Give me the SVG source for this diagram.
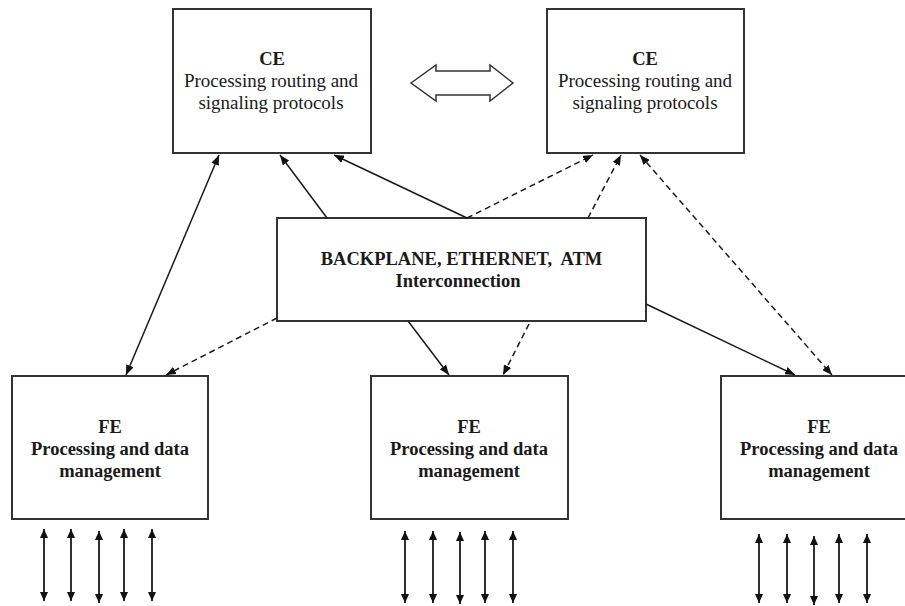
<svg xmlns="http://www.w3.org/2000/svg" width="905" height="606" viewBox="0 0 905 606">
<defs>
<marker id="ah" markerUnits="userSpaceOnUse" markerWidth="10" markerHeight="8" viewBox="0 0 10 8" refX="10" refY="4" orient="auto-start-reverse">
<path d="M0,0 L10,4 L0,8 z" fill="#111"/>
</marker>
<marker id="ah2" markerUnits="userSpaceOnUse" markerWidth="9" markerHeight="8" viewBox="0 0 9 8" refX="9" refY="4" orient="auto-start-reverse">
<path d="M0,0 L9,4 L0,8 z" fill="#111"/>
</marker>
<style>
.box{fill:#fff;stroke:#333;stroke-width:2}
.t{font-family:"Liberation Serif","Times New Roman",serif;fill:#1a1a1a;text-anchor:middle}
.r{font-size:19px}
.b{font-size:18.5px;font-weight:bold}
.c{fill:none;stroke:#1a1a1a;stroke-width:1.5}
.d{stroke-dasharray:6,4}
.io{fill:none;stroke:#1a1a1a;stroke-width:1.8;marker-start:url(#ah2);marker-end:url(#ah2)}
</style>
</defs>
<rect width="905" height="606" fill="#fff"/>
<g id="ce1">
<rect class="box" x="173" y="9" width="198" height="144"/>
<text class="t b" x="272" y="65">CE</text>
<text class="t r" x="271" y="87">Processing routing and</text>
<text class="t r" x="271" y="109">signaling protocols</text>
</g>
<g id="ce2">
<rect class="box" x="547" y="9" width="197" height="144"/>
<text class="t b" x="645" y="65">CE</text>
<text class="t r" x="645" y="87">Processing routing and</text>
<text class="t r" x="645" y="109">signaling protocols</text>
</g>
<g id="ce-link">
<path d="M411,83 L436,65 L436,71 L490,71 L490,65 L513,83 L490,101 L490,95 L436,95 L436,101 Z" fill="#fff" stroke="#333" stroke-width="1.5"/>
</g>
<g id="backplane">
<rect class="box" x="277" y="218" width="369" height="103"/>
<text class="t b" x="461.5" y="265" xml:space="preserve">BACKPLANE, ETHERNET,  ATM</text>
<text class="t b" x="458" y="287">Interconnection</text>
</g>
<g id="fe1">
<rect class="box" x="12" y="376" width="196" height="143"/>
<text class="t b" x="110" y="433">FE</text>
<text class="t b" x="110" y="455">Processing and data</text>
<text class="t b" x="110" y="477">management</text>
</g>
<g id="fe2">
<rect class="box" x="371" y="376" width="197" height="143"/>
<text class="t b" x="469" y="433">FE</text>
<text class="t b" x="469" y="455">Processing and data</text>
<text class="t b" x="469" y="477">management</text>
</g>
<g id="fe3">
<rect class="box" x="721" y="376" width="196" height="143"/>
<text class="t b" x="819" y="433">FE</text>
<text class="t b" x="819" y="455">Processing and data</text>
<text class="t b" x="819" y="477">management</text>
</g>
<g id="connectors">
<line class="c" x1="126" y1="375" x2="219" y2="155" marker-start="url(#ah)" marker-end="url(#ah)"/>
<line class="c" x1="327" y1="218" x2="280" y2="155" marker-end="url(#ah)"/>
<line class="c" x1="467" y1="218" x2="334" y2="155" marker-end="url(#ah)"/>
<line class="c d" x1="467" y1="218" x2="593" y2="155" marker-end="url(#ah)"/>
<line class="c d" x1="588" y1="218" x2="621" y2="155" marker-end="url(#ah)"/>
<line class="c d" x1="640" y1="155" x2="832" y2="375" marker-start="url(#ah)" marker-end="url(#ah)"/>
<line class="c d" x1="277" y1="318" x2="166" y2="375" marker-end="url(#ah)"/>
<line class="c" x1="408" y1="321" x2="449" y2="375" marker-end="url(#ah)"/>
<line class="c d" x1="529" y1="324" x2="503" y2="375" marker-end="url(#ah)"/>
<line class="c" x1="646" y1="304" x2="795" y2="375" marker-end="url(#ah)"/>
</g>
<g id="io1">
<line class="io" x1="44" y1="529" x2="44" y2="601"/>
<line class="io" x1="71" y1="529" x2="71" y2="601"/>
<line class="io" x1="99" y1="531" x2="99" y2="603"/>
<line class="io" x1="124" y1="529" x2="124" y2="601"/>
<line class="io" x1="152" y1="529" x2="152" y2="601"/>
</g>
<g id="io2">
<line class="io" x1="405" y1="531" x2="405" y2="603"/>
<line class="io" x1="433" y1="531" x2="433" y2="603"/>
<line class="io" x1="460" y1="532" x2="460" y2="604"/>
<line class="io" x1="485" y1="531" x2="485" y2="603"/>
<line class="io" x1="513" y1="531" x2="513" y2="603"/>
</g>
<g id="io3">
<line class="io" x1="759" y1="534" x2="759" y2="603"/>
<line class="io" x1="787" y1="534" x2="787" y2="603"/>
<line class="io" x1="814" y1="536" x2="814" y2="605"/>
<line class="io" x1="839" y1="534" x2="839" y2="603"/>
<line class="io" x1="867" y1="534" x2="867" y2="603"/>
</g>
</svg>
